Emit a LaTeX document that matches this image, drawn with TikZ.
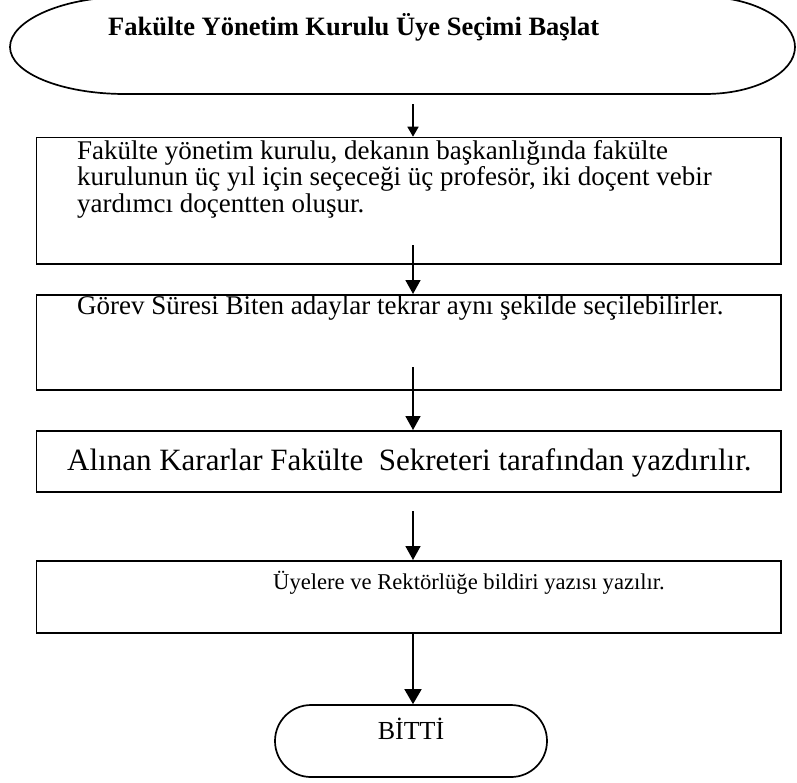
\documentclass[tikz,border=0pt]{standalone}
\usepackage{fontspec}
\setmainfont{Liberation Serif}
\usetikzlibrary{arrows.meta}
\begin{document}
\begin{tikzpicture}[x=1pt,y=-1pt,
  box/.style={draw, line width=1.7pt, rectangle, inner sep=0pt, anchor=north west},
  flow/.style={line width=1.7pt, -{Triangle[length=14pt,width=15pt]}},
  txt/.style={inner sep=0pt, anchor=base west},
  bodyfont/.style={font=\fontsize{27}{26.5}\selectfont},
]
\useasboundingbox (0,0) rectangle (797,782);
% start shape (stretched oval, top cut by the page edge)
\draw[line width=1.7pt] (125,-3) -- (705,-3)
  .. controls (754.7,-3) and (795,21) .. (795,47)
  .. controls (795,73) and (754.7,94) .. (705,94)
  -- (125,94)
  .. controls (61.5,94) and (10,73) .. (10,47)
  .. controls (10,21) and (61.5,-3) .. (125,-3) -- cycle;
% texts
\node[txt, font=\bfseries\fontsize{26.5}{30}\selectfont] (t0) at (108,35) {Fakülte Yönetim Kurulu Üye Seçimi Başlat};
\node[txt, bodyfont] (t1a) at (77,159) {Fakülte yönetim kurulu, dekanın başkanlığında fakülte};
\node[txt, bodyfont] (t1b) at (77,185.5) {kurulunun üç yıl için seçeceği üç profesör, iki doçent vebir};
\node[txt, bodyfont] (t1c) at (77,212) {yardımcı doçentten oluşur.};
\node[txt, bodyfont] (t2) at (77,314) {Görev Süresi Biten adaylar tekrar aynı şekilde seçilebilirler.};
\node[txt, font=\fontsize{31}{34}\selectfont] (t3) at (67,470.5) {Alınan Kararlar Fakülte\ \ Sekreteri tarafından yazdırılır.};
\node[txt, font=\fontsize{22.6}{26}\selectfont] (t4) at (273,589) {Üyelere ve Rektörlüğe bildiri yazısı yazılır.};
% boxes
\node[box, minimum width=744.3pt, minimum height=126.6pt] (b1) at (35.7,136.7) {};
\node[box, minimum width=744.3pt, minimum height=95pt] (b2) at (35.7,294) {};
\node[box, minimum width=744.3pt, minimum height=61pt] (b3) at (35.7,430) {};
\node[box, minimum width=744.3pt, minimum height=72pt] (b4) at (35.7,560) {};
\node[draw, line width=1.7pt, rectangle, rounded corners=36pt, minimum width=272pt, minimum height=72pt, inner sep=0pt] (end) at (411,741) {};
\node[inner sep=0pt, anchor=base, font=\fontsize{26}{30}\selectfont] (endtxt) at (411,739) {BİTTİ};
% arrows
\coordinate (a1) at (413,104);
\coordinate (a2) at (413,245);
\coordinate (a3) at (413,367);
\coordinate (a4) at (413,511);
\coordinate (a5) at (413,632);
\draw[line width=1.7pt, -{Triangle[length=10pt,width=11pt]}] (a1) -- (a1 |- b1.north);
\draw[flow] (a2) -- (a2 |- b2.north);
\draw[flow] (a3) -- (a3 |- b3.north);
\draw[flow] (a4) -- (a4 |- b4.north);
\draw[line width=1.7pt, -{Triangle[length=15pt,width=17pt]}] (a5) -- (a5 |- end.north);
\end{tikzpicture}
\end{document}
